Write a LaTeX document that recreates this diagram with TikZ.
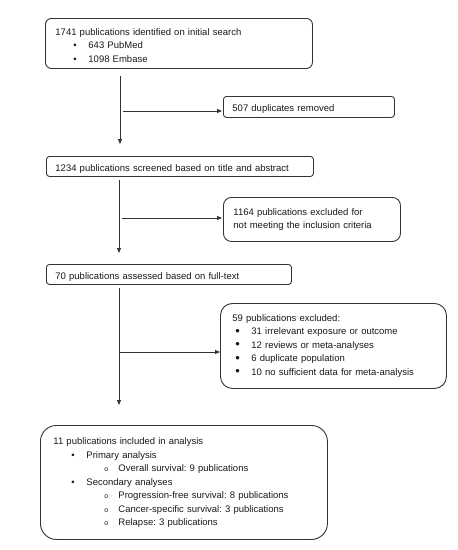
\documentclass[tikz,border=0pt]{standalone}
\usepackage{fontspec}
\setmainfont{Liberation Sans}
\frenchspacing
\usetikzlibrary{arrows.meta}
\definecolor{ln}{HTML}{333333}
\definecolor{tx}{HTML}{1A1A1A}
\newcommand\bul[3]{\hspace*{#1}\makebox[#2][l]{\textbullet}#3}
\newcommand\bbul[3]{\hspace*{#1}\makebox[#2][l]{\raisebox{-0.3pt}{\fontsize{13}{13}\selectfont\textbullet}}#3}
\newcommand\obul[3]{\hspace*{#1}\makebox[#2][l]{\fontsize{7}{7}\selectfont o}#3}
\begin{document}
\begin{tikzpicture}[x=1pt,y=-1pt,
  box/.style={draw=ln, line width=0.9pt, anchor=north west, align=left,
    font=\fontsize{9.5}{13.5}\selectfont, text=tx, inner ysep=0pt},
  tdown/.style={execute at begin node={\rule{0pt}{#1}}},
  arr/.style={draw=ln, line width=0.8pt, -{Triangle[length=5pt,width=4pt]}}]
\useasboundingbox (0,0) rectangle (458,550);
\fill[white] (0,0) rectangle (458,550);
% boxes
\node[box, tdown=10.8pt, rounded corners=6pt, inner xsep=10pt, text width=247pt, minimum height=50pt] (b1) at (45,18)
  {1741 publications identified on initial search\\
   \bul{18pt}{15pt}{643 PubMed}\\
   \bul{18pt}{15pt}{1098 Embase}};
\node[box, tdown=10.8pt, rounded corners=3pt, inner xsep=9pt, text width=153pt, minimum height=21pt] (d1) at (223,96)
  {507 duplicates removed};
\node[box, tdown=12.5pt, rounded corners=3pt, inner xsep=9pt, text width=249pt, minimum height=20pt] (b2) at (46,156)
  {1234 publications screened based on title and abstract};
\node[box, rounded corners=8pt, inner xsep=10pt, text width=157pt, minimum height=44pt] (d2) at (223,197)
  {1164 publications excluded for\\not meeting the inclusion criteria};
\node[box, tdown=13pt, rounded corners=3pt, inner xsep=9pt, text width=227pt, minimum height=20pt] (b3) at (46,264)
  {70 publications assessed based on full-text};
\node[box, rounded corners=12pt, inner xsep=12pt, text width=202pt, minimum height=85pt] (d3) at (220,303)
  {59 publications excluded:\\
   \bbul{3pt}{16pt}{31 irrelevant exposure or outcome}\\
   \bbul{3pt}{16pt}{12 reviews or meta-analyses}\\
   \bbul{3pt}{16pt}{6 duplicate population}\\
   \bbul{3pt}{16pt}{10 no sufficient data for meta-analysis}};
\node[box, tdown=8pt, rounded corners=16pt, inner xsep=13pt, text width=261pt, minimum height=114pt] (b4) at (40,425)
  {11 publications included in analysis\\
   \bul{18pt}{15pt}{Primary analysis}\\
   \obul{51pt}{14pt}{Overall survival: 9 publications}\\
   \bul{18pt}{15pt}{Secondary analyses}\\
   \obul{51pt}{14pt}{Progression-free survival: 8 publications}\\
   \obul{51pt}{14pt}{Cancer-specific survival: 3 publications}\\
   \obul{51pt}{14pt}{Relapse: 3 publications}};
% connectors
\coordinate (s1) at (120,76);
\coordinate (s2) at (119,180);
\coordinate (s3) at (119,288);
\coordinate (t1) at (123,111);
\coordinate (t2) at (122,218);
\coordinate (t3) at (119,352);
\draw[arr, shorten >=12pt] (s1) -- (s1 |- b2.north);
\draw[arr, shorten >=11pt] (s2) -- (s2 |- b3.north);
\draw[arr, shorten >=20pt] (s3) -- (s3 |- b4.north);
\draw[arr, shorten >=1pt] (t1) -- (t1 -| d1.west);
\draw[arr, shorten >=1pt] (t2) -- (t2 -| d2.west);
\draw[arr] (t3) -- (t3 -| d3.west);
\end{tikzpicture}
\end{document}
